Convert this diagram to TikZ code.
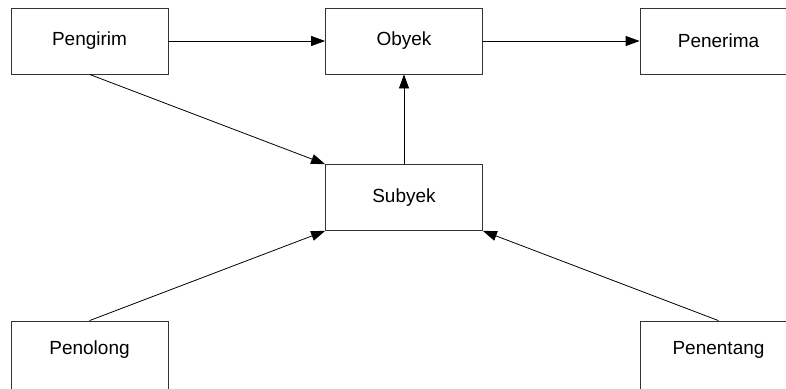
\documentclass[tikz,border=0pt]{standalone}
\usepackage{fontspec}
\setmainfont{Liberation Sans}
\usetikzlibrary{arrows.meta}
\begin{document}
\begin{tikzpicture}[x=1pt,y=-1pt,
  box/.style={draw=black!80,line width=0.8pt,fill=white,minimum width=157pt,minimum height=66pt,inner sep=0pt,font=\fontsize{19}{21}\selectfont},
  conn/.style={draw=black,line width=0.8pt,-{Triangle[length=14pt,width=10pt]}}]
\clip (0,0) rectangle (786,388);
\fill[white] (0,0) rectangle (786,388);
\node[box] (pengirim) at (89.5,41) {Pengirim};
\node[box] (obyek) at (404,41) {Obyek};
\node[box] (penerima) at (718.5,41) {Penerima};
\node[box] (subyek) at (404,197.5) {Subyek};
\node[box,minimum height=72pt] (penolong) at (89.5,357) {\raisebox{0pt}[0pt][0pt]{\smash{\raisebox{3pt}{Penolong}}}};
\node[box,minimum height=72pt] (penentang) at (718.5,357) {\smash{\raisebox{3pt}{Penentang}}};
\draw[conn] (pengirim.east) -- (obyek.west);
\draw[conn] (obyek.east) -- (penerima.west);
\draw[conn] (subyek.north) -- (obyek.south);
\draw[conn] (pengirim.south) -- (subyek.north west);
\draw[conn] (penolong.north) -- (subyek.south west);
\draw[conn] (penentang.north) -- (subyek.south east);
\end{tikzpicture}
\end{document}
